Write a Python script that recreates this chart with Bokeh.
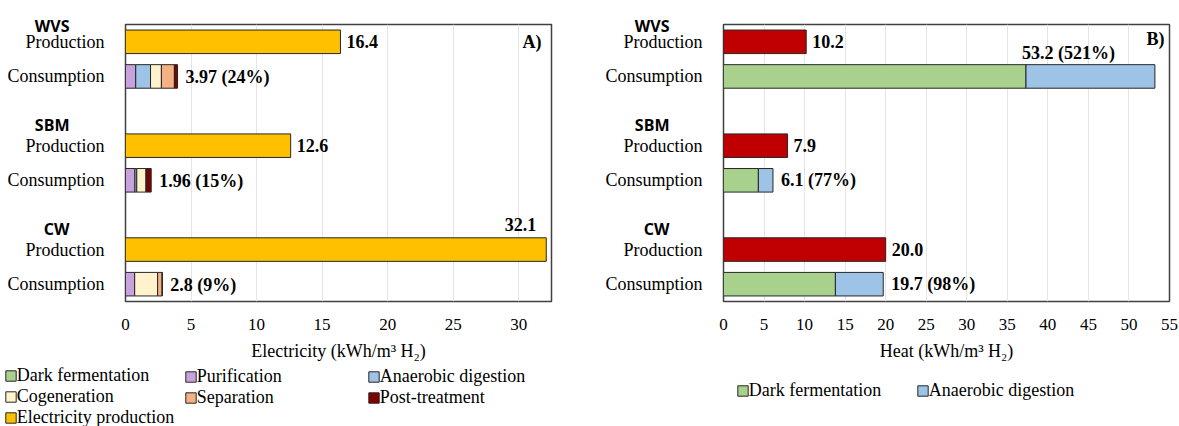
from bokeh.plotting import figure
from bokeh.layouts import row, column
from bokeh.models import (ColumnDataSource, Range1d, FixedTicker, Label, Legend, LegendItem,
                          LinearAxis)
from bokeh.core.properties import value
from bokeh.embed import file_html
from bokeh.resources import INLINE

# ---------------- data ----------------
sites = ["WVS", "SBM", "CW"]

# electricity (kWh/m3 H2)
elec_production = [16.4, 12.6, 32.1]
el_dark_fermentation = [0.0, 0.0, 0.0]
el_purification = [0.78, 0.72, 0.70]
el_anaerobic_digestion = [1.13, 0.14, 0.0]
el_cogeneration = [0.83, 0.70, 1.75]
el_separation = [0.99, 0.05, 0.35]
el_post_treatment = [0.24, 0.35, 0.0]
elec_consumption_labels = ["3.97 (24%)", "1.96 (15%)", "2.8 (9%)"]

# heat (kWh/m3 H2)
heat_production = [10.2, 7.9, 20.0]
ht_dark_fermentation = [37.3, 4.3, 13.8]
ht_anaerobic_digestion = [15.9, 1.8, 5.9]
heat_consumption_labels = ["53.2 (521%)", "6.1 (77%)", "19.7 (98%)"]

x_ticks_elec = [0, 5, 10, 15, 20, 25, 30]
x_ticks_heat = [0, 5, 10, 15, 20, 25, 30, 35, 40, 45, 50, 55]

# ---------------- styling ----------------
SERIF = "Liberation Serif"
SANS = "Open Sans"
C_DF = "#A9D18E"
C_PUR = "#C8A2DC"
C_AD = "#9DC3E6"
C_COG = "#FFF2CC"
C_SEP = "#F4B183"
C_POST = "#7F0000"
C_ELEC = "#FFC000"
C_HEAT = "#C00000"
EDGE = "#262626"
BAR_H = 0.68

CHART_H = 363
LEGEND_H = 426 - CHART_H

prod_y = [1, 4, 7]
cons_y = [2, 5, 8]
# site names sit just above their "Production" row (kept inside the axis span)
site_y = [max(p - 0.6, 0.55) for p in prod_y]


def site_axis(ticks, names, standoff):
    return LinearAxis(ticker=FixedTicker(ticks=ticks),
                      major_label_overrides=dict(zip(ticks, names)),
                      axis_line_color=None, major_tick_line_color=None,
                      minor_tick_line_color=None, major_label_standoff=standoff,
                      major_label_text_font=SANS, major_label_text_font_style="bold",
                      major_label_text_font_size="16px", major_label_text_color="black")


def base_figure(width, x_max, ticks, x_title, border_left, border_right, border_top, frame_h,
                site_standoff):
    p = figure(width=width, height=CHART_H, output_backend="svg", toolbar_location=None,
               x_range=Range1d(0, x_max), y_range=Range1d(8.5, 0.5),
               min_border_left=border_left, min_border_right=border_right,
               min_border_top=border_top, min_border_bottom=CHART_H - border_top - frame_h)
    p.outline_line_color = "#404040"
    p.outline_line_width = 1.5
    p.background_fill_color = "white"
    p.border_fill_color = "white"

    p.xaxis.ticker = FixedTicker(ticks=ticks)
    p.xaxis.axis_line_color = None
    p.xaxis.major_tick_line_color = None
    p.xaxis.minor_tick_line_color = None
    p.xaxis.major_label_standoff = 11
    p.xaxis.major_label_text_font = SERIF
    p.xaxis.major_label_text_font_size = "17px"
    p.xaxis.major_label_text_color = "black"
    p.xaxis.axis_label = x_title
    p.xaxis.axis_label_text_font = SERIF
    p.xaxis.axis_label_text_font_size = "18px"
    p.xaxis.axis_label_text_font_style = "normal"
    p.xaxis.axis_label_text_color = "black"
    p.xaxis.axis_label_standoff = 8

    # row labels next to each bar
    p.yaxis.ticker = FixedTicker(ticks=prod_y + cons_y)
    overrides = {}
    for a, b in zip(prod_y, cons_y):
        overrides[a] = "Production"
        overrides[b] = "Consumption"
    p.yaxis.major_label_overrides = overrides
    p.yaxis.axis_line_color = None
    p.yaxis.major_tick_line_color = None
    p.yaxis.minor_tick_line_color = None
    p.yaxis.major_label_standoff = 15
    p.yaxis.major_label_text_font = SERIF
    p.yaxis.major_label_text_font_size = "18px"
    p.yaxis.major_label_text_color = "black"

    # outer category axis with the site names
    p.add_layout(site_axis(site_y, sites, site_standoff), "left")

    p.xgrid.ticker = FixedTicker(ticks=ticks[1:])
    p.xgrid.grid_line_color = "#E4E4E4"
    p.xgrid.grid_line_width = 1
    p.ygrid.grid_line_color = None
    return p


def value_text(p, xs, ys, texts, align, x_off, y_off):
    src = ColumnDataSource(dict(x=xs, y=ys, t=texts))
    p.text(x="x", y="y", text="t", source=src, text_font=value(SERIF), text_font_style="bold",
           text_font_size="18px", text_color="black", text_align=align, text_baseline="middle",
           x_offset=x_off, y_offset=y_off)


def legend_figure(width):
    f = figure(width=width, height=LEGEND_H, output_backend="svg", toolbar_location=None,
               x_axis_type=None, y_axis_type=None, min_border=0,
               x_range=Range1d(0, 1), y_range=Range1d(0, 1))
    f.outline_line_color = None
    f.xgrid.visible = False
    f.ygrid.visible = False
    return f


def legend_key(f, color):
    # swatch renderer kept outside the visible range; only its legend key shows
    return f.hbar(y=[0.5], left=[5], right=[6], height=0.5, fill_color=color,
                  line_color=EDGE, line_width=1)


def make_legend(f, entries, loc):
    items = [LegendItem(label=lab, renderers=[legend_key(f, c)]) for lab, c in entries]
    lg = Legend(items=items, location=loc, orientation="vertical", padding=0, margin=0, spacing=-1,
                glyph_width=13, glyph_height=13, label_standoff=0, label_height=20,
                label_text_font=SERIF, label_text_font_size="18px", label_text_color="black",
                border_line_alpha=0, background_fill_alpha=0)
    f.add_layout(lg)


# ---------------- A) electricity ----------------
pa = base_figure(590, 32.5, x_ticks_elec, "Electricity (kWh/m\u00b3 H\u2082)", 125, 39, 24, 279,
                 -71)

src_ep = ColumnDataSource(dict(y=prod_y, v=elec_production))
pa.hbar(y="y", left=0, right="v", height=BAR_H, source=src_ep,
        fill_color=C_ELEC, line_color=EDGE, line_width=1)

el_keys = ["df", "pur", "ad", "cog", "sep", "post"]
src_ec = ColumnDataSource(dict(y=cons_y, df=el_dark_fermentation, pur=el_purification,
                               ad=el_anaerobic_digestion, cog=el_cogeneration,
                               sep=el_separation, post=el_post_treatment))
pa.hbar_stack(el_keys, y="y", height=BAR_H, source=src_ec,
              fill_color=[C_DF, C_PUR, C_AD, C_COG, C_SEP, C_POST],
              line_color=EDGE, line_width=1)

elec_totals = [sum(v) for v in zip(el_dark_fermentation, el_purification, el_anaerobic_digestion,
                                    el_cogeneration, el_separation, el_post_treatment)]

# production labels: beside the bar, or above it when the bar fills the axis
inside = [i for i, v in enumerate(elec_production) if v < 30]
above = [i for i, v in enumerate(elec_production) if v >= 30]
value_text(pa, [elec_production[i] for i in inside], [prod_y[i] for i in inside],
           ["%.1f" % elec_production[i] for i in inside], "left", 6, 0)
value_text(pa, [elec_production[i] for i in above], [prod_y[i] for i in above],
           ["%.1f" % elec_production[i] for i in above], "right", -10, -25)
value_text(pa, elec_totals, cons_y, elec_consumption_labels, "left", 8, 1)

pa.add_layout(Label(x=32.5, y=1, text="A)", text_align="right", text_baseline="middle",
                    x_offset=-10, text_font=SERIF, text_font_style="bold",
                    text_font_size="18px", text_color="black"))

# ---------------- B) heat ----------------
pb = base_figure(589, 55, x_ticks_heat, "Heat (kWh/m\u00b3 H\u2082)", 133, 10, 18, 284, -73)

src_hp = ColumnDataSource(dict(y=prod_y, v=heat_production))
pb.hbar(y="y", left=0, right="v", height=BAR_H, source=src_hp,
        fill_color=C_HEAT, line_color=EDGE, line_width=1)

src_hc = ColumnDataSource(dict(y=cons_y, df=ht_dark_fermentation, ad=ht_anaerobic_digestion))
pb.hbar_stack(["df", "ad"], y="y", height=BAR_H, source=src_hc,
              fill_color=[C_DF, C_AD], line_color=EDGE, line_width=1)

heat_totals = [a + b for a, b in zip(ht_dark_fermentation, ht_anaerobic_digestion)]

value_text(pb, heat_production, prod_y, ["%.1f" % v for v in heat_production], "left", 6, 0)
beside = [i for i, v in enumerate(heat_totals) if v < 45]
over = [i for i, v in enumerate(heat_totals) if v >= 45]
value_text(pb, [heat_totals[i] for i in beside], [cons_y[i] for i in beside],
           [heat_consumption_labels[i] for i in beside], "left", 8, 0)
value_text(pb, [heat_totals[i] for i in over], [cons_y[i] for i in over],
           [heat_consumption_labels[i] for i in over], "right", -40, -23)

pb.add_layout(Label(x=55, y=1, text="B)", text_align="right", text_baseline="middle",
                    x_offset=-5, y_offset=3, text_font=SERIF, text_font_style="bold",
                    text_font_size="18px", text_color="black"))

# ---------------- legends ----------------
la = legend_figure(590)
make_legend(la, [("Dark fermentation", C_DF), ("Cogeneration", C_COG),
                 ("Electricity production", C_ELEC)], (3.7, -2))
make_legend(la, [("Purification", C_PUR), ("Separation", C_SEP)], (183.7, 18))
make_legend(la, [("Anaerobic digestion", C_AD), ("Post-treatment", C_POST)], (366.7, 18))

lb = legend_figure(589)
make_legend(lb, [("Dark fermentation", C_DF)], (145.7, 25))
make_legend(lb, [("Anaerobic digestion", C_AD)], (325.7, 25))

layout = column(row(pa, pb), row(la, lb))
open("out.html", "w").write(file_html(layout, INLINE))
